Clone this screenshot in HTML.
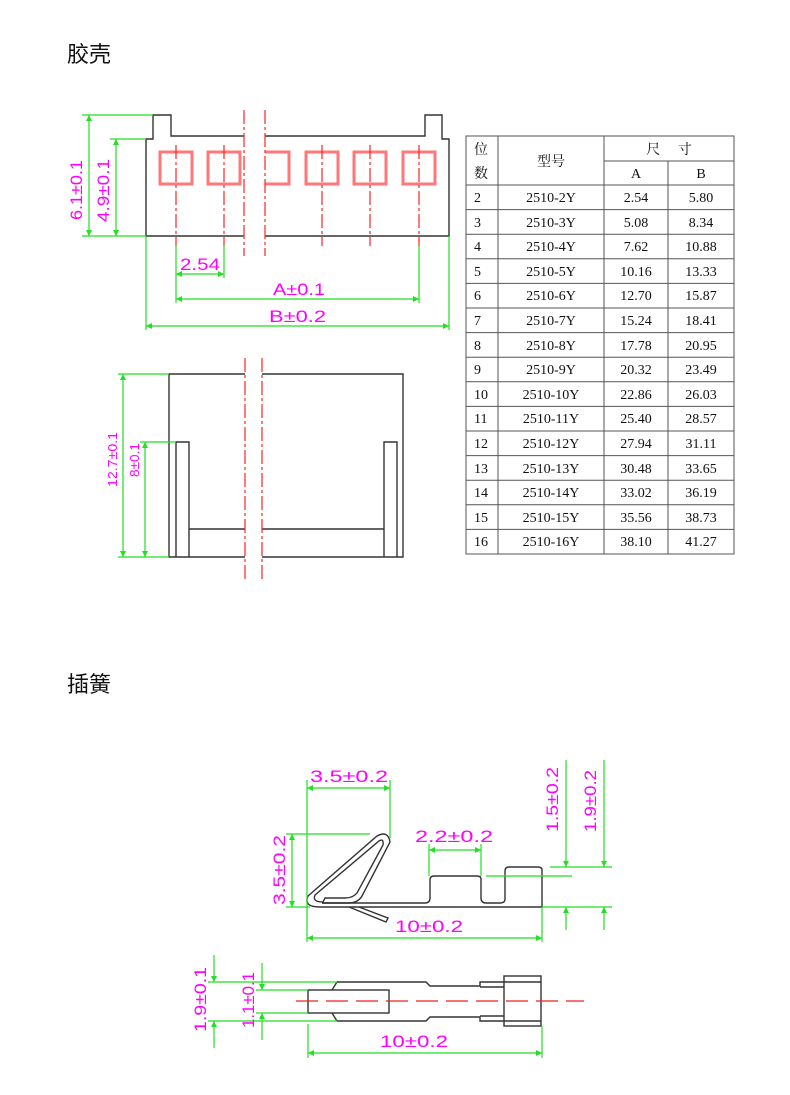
<!DOCTYPE html>
<html><head><meta charset="utf-8"><style>
html,body{margin:0;padding:0;background:#fff;}
svg{display:block;}
.t{font-family:"Liberation Sans","Noto Sans CJK SC",sans-serif;}
.s{font-family:"Liberation Serif","Noto Serif CJK SC",serif;font-size:14px;fill:#111;}
.m{font-family:"Liberation Sans",sans-serif;fill:#f0f;font-size:17px;}
.g{stroke:#22e022;stroke-width:1.2;fill:none;}
.k{stroke:#333;stroke-width:1.4;fill:none;}
.r{stroke:#f22;stroke-width:1.2;fill:none;stroke-dasharray:14 3 3 3;}
</style></head><body>
<svg width="790" height="1095" viewBox="0 0 790 1095" xmlns="http://www.w3.org/2000/svg">
<defs>
<marker id="a" viewBox="0 0 10 10" refX="10" refY="5" markerWidth="14" markerHeight="6" markerUnits="userSpaceOnUse" orient="auto-start-reverse"><path d="M0,0 L10,5 L0,10z" fill="#22e022"/></marker>
</defs>
<text x="67" y="62" class="t" font-size="22" fill="#111">胶壳</text>
<text x="67" y="692" class="t" font-size="22" fill="#111">插簧</text>

<!-- housing top view -->
<path class="k" d="M244,236 L146,236 L146,139 L153,139 L153,115 L171,115 L171,136 L244,136"/>
<path class="k" d="M265,136 L425,136 L425,115 L442,115 L442,139 L449,139 L449,236 L265,236"/>
<g fill="none" stroke-width="3" stroke="#f77">
<rect x="160" y="152" width="32" height="32"/>
<rect x="208" y="152" width="32" height="32"/>
<rect x="306" y="152" width="32" height="32"/>
<rect x="354" y="152" width="32" height="32"/>
<rect x="403" y="152" width="32" height="32"/>
<path d="M265,152 L289,152 L289,184 L265,184"/>
</g>
<g class="r">
<line x1="176" y1="145" x2="176" y2="246"/><line x1="224" y1="145" x2="224" y2="246"/>
<line x1="322" y1="145" x2="322" y2="246"/><line x1="370" y1="145" x2="370" y2="246"/>
<line x1="419" y1="145" x2="419" y2="246"/>
<line x1="244" y1="110" x2="244" y2="256"/><line x1="265" y1="110" x2="265" y2="256"/>
</g>
<g class="g">
<line x1="82" y1="115" x2="153" y2="115"/><line x1="110" y1="139" x2="146" y2="139"/>
<line x1="82" y1="236" x2="146" y2="236"/>
<line x1="89" y1="115" x2="89" y2="236" marker-start="url(#a)" marker-end="url(#a)"/>
<line x1="116" y1="139" x2="116" y2="236" marker-start="url(#a)" marker-end="url(#a)"/>
<line x1="176" y1="246" x2="176" y2="303"/><line x1="224" y1="246" x2="224" y2="278"/>
<line x1="419" y1="246" x2="419" y2="303"/>
<line x1="146" y1="236" x2="146" y2="330"/><line x1="449" y1="236" x2="449" y2="330"/>
<line x1="176" y1="274" x2="224" y2="274" marker-start="url(#a)" marker-end="url(#a)"/>
<line x1="176" y1="299" x2="419" y2="299" marker-start="url(#a)" marker-end="url(#a)"/>
<line x1="146" y1="326" x2="449" y2="326" marker-start="url(#a)" marker-end="url(#a)"/>
</g>
<text class="m" x="180" y="270" textLength="40" lengthAdjust="spacingAndGlyphs">2.54</text>
<text class="m" x="273" y="295" textLength="52" lengthAdjust="spacingAndGlyphs">A±0.1</text>
<text class="m" x="269" y="322" textLength="57" lengthAdjust="spacingAndGlyphs">B±0.2</text>
<text class="m" transform="translate(82,190) rotate(-90)" x="-30" textLength="60" lengthAdjust="spacingAndGlyphs">6.1±0.1</text>
<text class="m" transform="translate(109,191) rotate(-90)" x="-31" textLength="63" lengthAdjust="spacingAndGlyphs">4.9±0.1</text>

<!-- side view -->
<path class="k" d="M245,374 L169,374 L169,557 L245,557 M262,374 L403,374 L403,557 L262,557"/>
<path class="k" d="M176,557 L176,442 L189,442 L189,557 M384,557 L384,442 L397,442 L397,557 M189,529 L245,529 M262,529 L384,529"/>
<g class="r"><line x1="245" y1="358" x2="245" y2="580"/><line x1="262" y1="358" x2="262" y2="580"/></g>
<g class="g">
<line x1="118" y1="374" x2="169" y2="374"/><line x1="118" y1="557" x2="169" y2="557"/>
<line x1="140" y1="442" x2="176" y2="442"/>
<line x1="123" y1="374" x2="123" y2="557" marker-start="url(#a)" marker-end="url(#a)"/>
<line x1="145" y1="442" x2="145" y2="557" marker-start="url(#a)" marker-end="url(#a)"/>
</g>
<text class="m" style="font-size:13px" transform="translate(117,460) rotate(-90)" x="-27" textLength="55" lengthAdjust="spacingAndGlyphs">12.7±0.1</text>
<text class="m" style="font-size:13px" transform="translate(139,460) rotate(-90)" x="-17" textLength="34" lengthAdjust="spacingAndGlyphs">8±0.1</text>

<!-- table -->
<g stroke="#555" stroke-width="1" fill="none">
<rect x="466" y="136" width="268" height="418"/>
<line x1="498" y1="136" x2="498" y2="554"/><line x1="604" y1="136" x2="604" y2="554"/>
<line x1="668" y1="161" x2="668" y2="554"/><line x1="604" y1="161" x2="734" y2="161"/>
<line x1="466" y1="185" x2="734" y2="185"/>
<line x1="466" y1="209.6" x2="734" y2="209.6"/><line x1="466" y1="234.2" x2="734" y2="234.2"/>
<line x1="466" y1="258.8" x2="734" y2="258.8"/><line x1="466" y1="283.4" x2="734" y2="283.4"/>
<line x1="466" y1="308" x2="734" y2="308"/><line x1="466" y1="332.6" x2="734" y2="332.6"/>
<line x1="466" y1="357.2" x2="734" y2="357.2"/><line x1="466" y1="381.8" x2="734" y2="381.8"/>
<line x1="466" y1="406.4" x2="734" y2="406.4"/><line x1="466" y1="431" x2="734" y2="431"/>
<line x1="466" y1="455.6" x2="734" y2="455.6"/><line x1="466" y1="480.2" x2="734" y2="480.2"/>
<line x1="466" y1="504.8" x2="734" y2="504.8"/><line x1="466" y1="529.4" x2="734" y2="529.4"/>
</g>
<text class="s" x="474" y="154">位</text><text class="s" x="474" y="178">数</text>
<text class="s" x="551" y="166" text-anchor="middle">型号</text>
<text class="s" x="669" y="154" text-anchor="middle">尺　 寸</text>
<text class="s" x="636" y="178" text-anchor="middle">A</text><text class="s" x="701" y="178" text-anchor="middle">B</text>
<g class="s">
<text x="474" y="202">2</text><text x="551" y="202" text-anchor="middle">2510-2Y</text><text x="636" y="202" text-anchor="middle">2.54</text><text x="701" y="202" text-anchor="middle">5.80</text>
<text x="474" y="227">3</text><text x="551" y="227" text-anchor="middle">2510-3Y</text><text x="636" y="227" text-anchor="middle">5.08</text><text x="701" y="227" text-anchor="middle">8.34</text>
<text x="474" y="251">4</text><text x="551" y="251" text-anchor="middle">2510-4Y</text><text x="636" y="251" text-anchor="middle">7.62</text><text x="701" y="251" text-anchor="middle">10.88</text>
<text x="474" y="276">5</text><text x="551" y="276" text-anchor="middle">2510-5Y</text><text x="636" y="276" text-anchor="middle">10.16</text><text x="701" y="276" text-anchor="middle">13.33</text>
<text x="474" y="300">6</text><text x="551" y="300" text-anchor="middle">2510-6Y</text><text x="636" y="300" text-anchor="middle">12.70</text><text x="701" y="300" text-anchor="middle">15.87</text>
<text x="474" y="325">7</text><text x="551" y="325" text-anchor="middle">2510-7Y</text><text x="636" y="325" text-anchor="middle">15.24</text><text x="701" y="325" text-anchor="middle">18.41</text>
<text x="474" y="350">8</text><text x="551" y="350" text-anchor="middle">2510-8Y</text><text x="636" y="350" text-anchor="middle">17.78</text><text x="701" y="350" text-anchor="middle">20.95</text>
<text x="474" y="374">9</text><text x="551" y="374" text-anchor="middle">2510-9Y</text><text x="636" y="374" text-anchor="middle">20.32</text><text x="701" y="374" text-anchor="middle">23.49</text>
<text x="474" y="399">10</text><text x="551" y="399" text-anchor="middle">2510-10Y</text><text x="636" y="399" text-anchor="middle">22.86</text><text x="701" y="399" text-anchor="middle">26.03</text>
<text x="474" y="423">11</text><text x="551" y="423" text-anchor="middle">2510-11Y</text><text x="636" y="423" text-anchor="middle">25.40</text><text x="701" y="423" text-anchor="middle">28.57</text>
<text x="474" y="448">12</text><text x="551" y="448" text-anchor="middle">2510-12Y</text><text x="636" y="448" text-anchor="middle">27.94</text><text x="701" y="448" text-anchor="middle">31.11</text>
<text x="474" y="473">13</text><text x="551" y="473" text-anchor="middle">2510-13Y</text><text x="636" y="473" text-anchor="middle">30.48</text><text x="701" y="473" text-anchor="middle">33.65</text>
<text x="474" y="497">14</text><text x="551" y="497" text-anchor="middle">2510-14Y</text><text x="636" y="497" text-anchor="middle">33.02</text><text x="701" y="497" text-anchor="middle">36.19</text>
<text x="474" y="522">15</text><text x="551" y="522" text-anchor="middle">2510-15Y</text><text x="636" y="522" text-anchor="middle">35.56</text><text x="701" y="522" text-anchor="middle">38.73</text>
<text x="474" y="546">16</text><text x="551" y="546" text-anchor="middle">2510-16Y</text><text x="636" y="546" text-anchor="middle">38.10</text><text x="701" y="546" text-anchor="middle">41.27</text>
</g>

<!-- spring side -->
<g class="k" stroke-width="1.3">
<path d="M320,907 L542,907 L542,870 Q542,867 538,867 L509,867 Q505,867 505,871 L505,899 Q505,903 500,903 L486,903 Q481,903 481,898 L481,879 Q481,876 477,876 L434,876 Q430,876 430,880 L430,898 Q430,903 425,903 L322,903"/>
<path d="M320,907 Q303,907 308,896 L377,836 Q388,830 390,842 L362,896 Q358,903 348,903 L322,903"/>
<path d="M323,902 Q312,902 315,895 L379,841 Q384,838 383,845 L357,893 Q353,898 345,898 L325,898 Z"/>
<path d="M349,907 L386,922 L388,918 L359,907"/>
</g>
<g class="g">
<line x1="307" y1="780" x2="307" y2="942"/><line x1="390" y1="780" x2="390" y2="838"/>
<line x1="307" y1="788" x2="390" y2="788" marker-start="url(#a)" marker-end="url(#a)"/>
<line x1="286" y1="834" x2="370" y2="834"/><line x1="286" y1="907" x2="310" y2="907"/>
<line x1="292" y1="834" x2="292" y2="907" marker-start="url(#a)" marker-end="url(#a)"/>
<line x1="429" y1="844" x2="429" y2="876"/><line x1="481" y1="844" x2="481" y2="876"/>
<line x1="429" y1="850" x2="481" y2="850" marker-start="url(#a)" marker-end="url(#a)"/>
<line x1="542" y1="907" x2="542" y2="942"/>
<line x1="307" y1="938" x2="542" y2="938" marker-start="url(#a)" marker-end="url(#a)"/>
<line x1="486" y1="876" x2="572" y2="876"/><line x1="550" y1="867" x2="612" y2="867"/>
<line x1="542" y1="907" x2="612" y2="907"/>
<line x1="566" y1="760" x2="566" y2="867" marker-end="url(#a)"/>
<line x1="566" y1="930" x2="566" y2="907" marker-end="url(#a)"/>
<line x1="604" y1="760" x2="604" y2="867" marker-end="url(#a)"/>
<line x1="604" y1="930" x2="604" y2="907" marker-end="url(#a)"/>
</g>
<text class="m" x="310" y="782" textLength="78" lengthAdjust="spacingAndGlyphs">3.5±0.2</text>
<text class="m" x="415" y="842" textLength="78" lengthAdjust="spacingAndGlyphs">2.2±0.2</text>
<text class="m" x="395" y="932" textLength="68" lengthAdjust="spacingAndGlyphs">10±0.2</text>
<text class="m" transform="translate(285,870) rotate(-90)" x="-35" textLength="70" lengthAdjust="spacingAndGlyphs">3.5±0.2</text>
<text class="m" transform="translate(558,800) rotate(-90)" x="-32" textLength="65" lengthAdjust="spacingAndGlyphs">1.5±0.2</text>
<text class="m" transform="translate(596,801) rotate(-90)" x="-31" textLength="62" lengthAdjust="spacingAndGlyphs">1.9±0.2</text>

<!-- spring top -->
<g class="k" stroke-width="1.3">
<rect x="308" y="990" width="81" height="23"/>
<path d="M332,990 L337,982 L426,982 L430,986 L480,986 L480,982 L504,982"/>
<path d="M332,1013 L337,1021 L426,1021 L430,1017 L480,1017 L480,1021 L504,1021"/>
<path d="M480,987 L504,987 M480,1016 L504,1016"/>
<rect x="504" y="976" width="37" height="50"/>
<line x1="504" y1="982" x2="541" y2="982"/><line x1="504" y1="1021" x2="541" y2="1021"/>
</g>
<line x1="296" y1="1001" x2="584" y2="1001" stroke="#e22" stroke-width="1.2" stroke-dasharray="22 8"/>
<g class="g">
<line x1="208" y1="982" x2="337" y2="982"/><line x1="208" y1="1021" x2="337" y2="1021"/>
<line x1="256" y1="990" x2="308" y2="990"/><line x1="256" y1="1013" x2="308" y2="1013"/>
<line x1="214" y1="955" x2="214" y2="982" marker-end="url(#a)"/>
<line x1="214" y1="1048" x2="214" y2="1021" marker-end="url(#a)"/>
<line x1="262" y1="963" x2="262" y2="990" marker-end="url(#a)"/>
<line x1="262" y1="1040" x2="262" y2="1013" marker-end="url(#a)"/>
<line x1="308" y1="1024" x2="308" y2="1058"/><line x1="542" y1="1026" x2="542" y2="1058"/>
<line x1="308" y1="1053" x2="542" y2="1053" marker-start="url(#a)" marker-end="url(#a)"/>
</g>
<text class="m" x="380" y="1047" textLength="68" lengthAdjust="spacingAndGlyphs">10±0.2</text>
<text class="m" transform="translate(206,1000) rotate(-90)" x="-32" textLength="65" lengthAdjust="spacingAndGlyphs">1.9±0.1</text>
<text class="m" transform="translate(254,1000) rotate(-90)" x="-28" textLength="56" lengthAdjust="spacingAndGlyphs">1.1±0.1</text>
</svg>
</body></html>
